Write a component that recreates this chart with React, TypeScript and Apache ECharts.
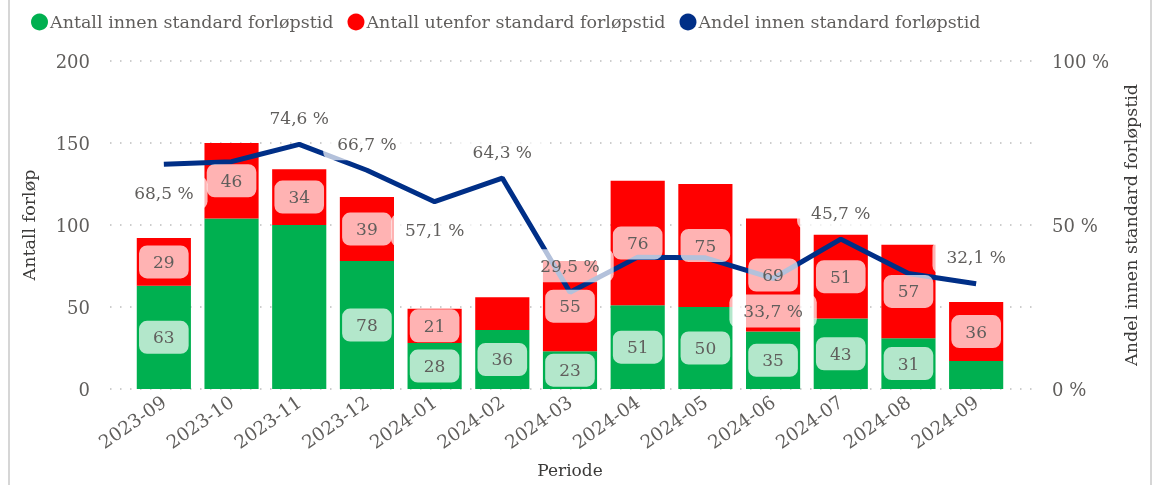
import React, { useEffect, useRef } from "react";
import * as echarts from "echarts";

const months = ["2023-09","2023-10","2023-11","2023-12","2024-01","2024-02","2024-03","2024-04","2024-05","2024-06","2024-07","2024-08","2024-09"];
const innen = [63, 104, 100, 78, 28, 36, 23, 51, 50, 35, 43, 31, 17];
const utenfor = [29, 46, 34, 39, 21, 20, 55, 76, 75, 69, 51, 57, 36];
const andel = [68.5, 69.3, 74.6, 66.7, 57.1, 64.3, 29.5, 40.2, 40.0, 33.7, 45.7, 35.2, 32.1];
const innenLabelShown = [true, false, false, true, true, true, true, true, true, true, true, true, false];
const utenforLabelShown = [true, true, true, true, true, false, true, true, true, true, true, true, true];
const andelLabelPos = ["bottom", "", "top", "top", "bottom", "top", "top", "", "", "bottom", "top", "", "top"];
const leftTicks = { min: 0, max: 200, interval: 50 };
const rightTicks = { min: 0, max: 100, interval: 50 };

const FONT = "DejaVu Serif";
const GREEN = "#00B050";
const RED = "#FF0000";
const NAVY = "#002F87";
const TICK = "#605E5C";
const TITLE = "#3B3A39";

const labelBox = {
  fontFamily: FONT,
  fontSize: 17,
  color: TICK,
  backgroundColor: "rgba(255,255,255,0.7)",
  borderRadius: 8,
  padding: [8, 14],
};

export default function App() {
  const ref = useRef<HTMLDivElement>(null);
  useEffect(() => {
    if (!ref.current) return;
    const chart = echarts.init(ref.current, undefined, { renderer: "svg" });
    const grid = { top: 61, bottom: 96, outerBoundsMode: "none", containLabel: false };
    const barCommon = {
      type: "bar",
      xAxisIndex: 1,
      yAxisIndex: 2,
      barWidth: "80%",
      barGap: "-100%",
    };
    chart.setOption({
      animation: false,
      textStyle: { fontFamily: FONT },
      legend: {
        left: 26,
        top: 8,
        icon: "circle",
        itemWidth: 17,
        itemHeight: 17,
        itemGap: 14,
        textStyle: { fontFamily: FONT, fontSize: 17.5, color: TICK, padding: [0, 0, 0, -3] },
        data: ["Antall innen standard forløpstid", "Antall utenfor standard forløpstid", "Andel innen standard forløpstid"],
      },
      graphic: [
        { type: "line", shape: { x1: 9, y1: 0, x2: 9, y2: 485 }, style: { stroke: "#D6D6D6", lineWidth: 2 } },
        { type: "line", shape: { x1: 1151, y1: 0, x2: 1151, y2: 485 }, style: { stroke: "#D6D6D6", lineWidth: 2 } },
      ],
      grid: [
        { left: 110, right: 133, ...grid },
        { left: 130, right: 155, ...grid },
      ],
      xAxis: [
        { gridIndex: 0, type: "value", show: false, min: 0, max: 1 },
        {
          gridIndex: 1,
          type: "category",
          data: months,
          axisLine: { show: false },
          axisTick: { show: false },
          axisLabel: { rotate: 35, fontSize: 18.5, color: TICK, margin: 11, fontFamily: FONT },
          name: "Periode",
          nameLocation: "middle",
          nameGap: 72,
          nameTextStyle: { fontSize: 17, color: TITLE, fontFamily: FONT },
        },
      ],
      yAxis: [
        {
          gridIndex: 0,
          type: "value",
          ...leftTicks,
          axisLine: { show: false },
          axisTick: { show: false },
          axisLabel: { fontSize: 18, color: TICK, margin: 20, fontFamily: FONT },
          splitLine: { lineStyle: { type: [1.5, 8.5], color: "#BDBDBD", width: 1.5 } },
          name: "Antall forløp",
          nameLocation: "middle",
          nameGap: 72,
          nameTextStyle: { fontSize: 17.5, color: TITLE, fontFamily: FONT },
        },
        {
          gridIndex: 0,
          type: "value",
          position: "right",
          ...rightTicks,
          axisLine: { show: false },
          axisTick: { show: false },
          splitLine: { show: false },
          axisLabel: { fontSize: 18, color: TICK, margin: 20, fontFamily: FONT, formatter: "{value} %" },
          name: "Andel innen standard forløpstid",
          nameLocation: "middle",
          nameGap: 90,
          nameRotate: 90,
          nameTextStyle: { fontSize: 17.5, color: TITLE, fontFamily: FONT },
        },
        { gridIndex: 1, type: "value", ...leftTicks, show: false },
        { gridIndex: 1, type: "value", ...rightTicks, show: false },
      ],
      series: [
        {
          ...barCommon,
          name: "Antall innen standard forløpstid",
          stack: "a",
          itemStyle: { color: GREEN },
          z: 2,
          data: innen,
        },
        {
          ...barCommon,
          name: "Antall utenfor standard forløpstid",
          stack: "a",
          itemStyle: { color: RED },
          z: 2,
          data: utenfor,
        },
        {
          name: "Andel innen standard forløpstid",
          type: "line",
          xAxisIndex: 1,
          yAxisIndex: 3,
          z: 3,
          symbol: "circle",
          symbolSize: 0.1,
          showSymbol: true,
          lineStyle: { color: NAVY, width: 5 },
          itemStyle: { color: NAVY },
          data: andel.map((v, i) => ({
            value: v,
            label: andelLabelPos[i]
              ? {
                  show: true,
                  position: andelLabelPos[i],
                  distance: andelLabelPos[i] === "bottom" ? (i === 9 ? 16 : 12) : 10,
                }
              : { show: false },
          })),
          label: {
            ...labelBox,
            formatter: (p: any) => p.value.toFixed(1).replace(".", ",") + " %",
          },
        },
        {
          ...barCommon,
          name: "innen-etiketter",
          stack: "b",
          itemStyle: { color: "rgba(0,0,0,0)" },
          z: 5,
          silent: true,
          data: innen.map((v, i) => ({ value: v, label: { show: innenLabelShown[i] } })),
          label: { position: "inside", ...labelBox },
        },
        {
          ...barCommon,
          name: "utenfor-etiketter",
          stack: "b",
          itemStyle: { color: "rgba(0,0,0,0)" },
          z: 5,
          silent: true,
          data: utenfor.map((v, i) => ({ value: v, label: { show: utenforLabelShown[i] } })),
          label: { position: "inside", ...labelBox },
        },
      ],
    });
    return () => chart.dispose();
  }, []);
  return <div ref={ref} style={{ position: "fixed", left: 0, top: 0, width: 1165, height: 485 }} />;
}
